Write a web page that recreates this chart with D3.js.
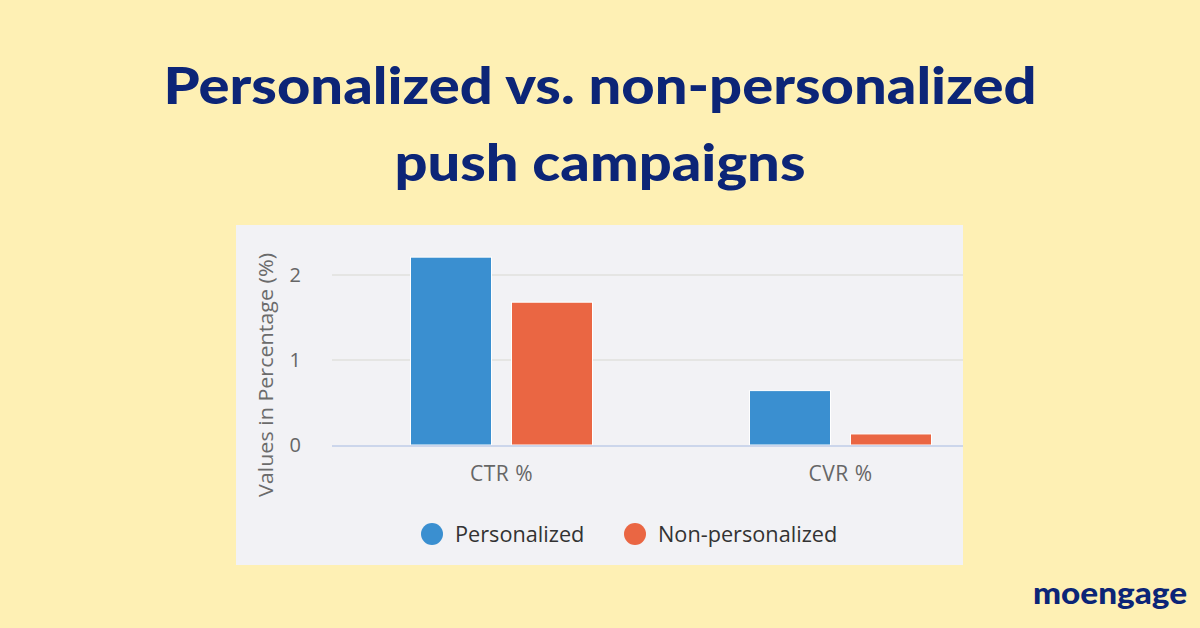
<!DOCTYPE html>
<html><head><meta charset="utf-8">
<script src="https://cdn.jsdelivr.net/npm/d3@7"></script>
<style>html,body{margin:0;padding:0;background:#FEF0B4;}svg{display:block;}</style>
</head><body>
<script>
const categories = ["CTR %", "CVR %"];
const seriesNames = ["Personalized", "Non-personalized"];
const personalized = [2.21, 0.64];
const nonPersonalized = [1.68, 0.13];
const yTicks = [0, 1, 2];
const seriesColors = ["#3A8FD0", "#EA6643"];

const W = 1200, H = 628;
const svg = d3.select("body").append("svg").attr("width", W).attr("height", H);
svg.append("rect").attr("width", W).attr("height", H).attr("fill", "#FEF0B4");

// Title
const navy = "#0C2577";
const tf = "Lato, 'Noto Sans', sans-serif";
const af = "'Open Sans', Roboto, sans-serif";
svg.append("text").attr("x", 600).attr("y", 104).attr("text-anchor", "middle")
  .attr("font-family", tf).attr("font-weight", 900).attr("font-size", 51).attr("fill", navy)
  .attr("textLength", 873).attr("lengthAdjust", "spacingAndGlyphs")
  .text("Personalized vs. non-personalized");
svg.append("text").attr("x", 600).attr("y", 181).attr("text-anchor", "middle")
  .attr("font-family", tf).attr("font-weight", 900).attr("font-size", 51).attr("fill", navy)
  .attr("textLength", 411).attr("lengthAdjust", "spacingAndGlyphs")
  .text("push campaigns");

// Panel
const panel = {x0: 236, y0: 225, x1: 963, y1: 565};
svg.append("rect").attr("x", panel.x0).attr("y", panel.y0)
  .attr("width", panel.x1 - panel.x0).attr("height", panel.y1 - panel.y0).attr("fill", "#F2F2F5");
svg.append("clipPath").attr("id", "pc").append("rect").attr("x", panel.x0).attr("y", panel.y0)
  .attr("width", panel.x1 - panel.x0).attr("height", panel.y1 - panel.y0);

const g = svg.append("g").attr("clip-path", "url(#pc)");
const groupW = 182;
const x0 = d3.scaleBand().domain(categories).range([332, 1010]).paddingInner(0).paddingOuter(0);
const x1 = d3.scaleBand().domain(seriesNames).range([0, groupW]).paddingInner(0.198);
const y = d3.scaleLinear().domain([0, 2]).range([445, 275]);

// gridlines
g.append("g").selectAll("line").data(yTicks.filter(d => d > 0)).join("line")
  .attr("x1", 332).attr("x2", 1010).attr("y1", d => y(d)).attr("y2", d => y(d))
  .attr("stroke", "#E5E5E3").attr("stroke-width", 2);

// y tick labels
svg.append("g").selectAll("text").data(yTicks).join("text")
  .attr("x", 301).attr("y", d => y(d) + 7).attr("text-anchor", "end")
  .attr("font-family", af).attr("font-size", 20).attr("fill", "#666")
  .text(d => d);

// y title
svg.append("text").attr("transform", "translate(273,375) rotate(-90)").attr("text-anchor", "middle")
  .attr("font-family", af).attr("font-size", 20).attr("fill", "#6b6b6b")
  .attr("textLength", 244).attr("lengthAdjust", "spacingAndGlyphs")
  .text("Values in Percentage (%)");

// bars
const data = categories.map((c, i) => ({c, vals: [personalized[i], nonPersonalized[i]]}));
const groups = g.append("g").selectAll("g").data(data).join("g")
  .attr("transform", d => `translate(${x0(d.c) + (x0.bandwidth() - groupW) / 2},0)`);
groups.selectAll("rect").data(d => d.vals.map((v, j) => ({v, s: seriesNames[j], j}))).join("rect")
  .attr("x", d => x1(d.s)).attr("width", x1.bandwidth())
  .attr("y", d => y(d.v)).attr("height", d => y(0) - y(d.v))
  .attr("fill", d => seriesColors[d.j]).attr("stroke", "#fff").attr("stroke-width", 1);

// baseline
g.append("line").attr("x1", 332).attr("x2", 1010).attr("y1", y(0) + 1).attr("y2", y(0) + 1)
  .attr("stroke", "#CCD6EB").attr("stroke-width", 2);

// category labels
svg.append("g").selectAll("text").data(categories).join("text")
  .attr("x", d => x0(d) + x0.bandwidth() / 2).attr("y", 481).attr("text-anchor", "middle")
  .attr("font-family", af).attr("font-size", 21).attr("fill", "#666")
  .attr("letter-spacing", 0.5)
  .text(d => d);

// legend
const legX = [432, 635];
const leg = svg.append("g").selectAll("g").data(seriesNames).join("g")
  .attr("transform", (d, i) => `translate(${legX[i]},534)`);
leg.append("circle").attr("r", 11).attr("fill", (d, i) => seriesColors[i]);
leg.append("text").attr("x", 23).attr("y", 8)
  .attr("font-family", af).attr("font-size", 21.7).attr("fill", "#333")
  .text(d => d);

// logo
svg.append("text").attr("x", 1187).attr("y", 604).attr("text-anchor", "end")
  .attr("font-family", tf).attr("font-weight", 900).attr("font-size", 31).attr("fill", navy)
  .attr("textLength", 154).attr("lengthAdjust", "spacingAndGlyphs")
  .text("moengage");
</script>
</body></html>
